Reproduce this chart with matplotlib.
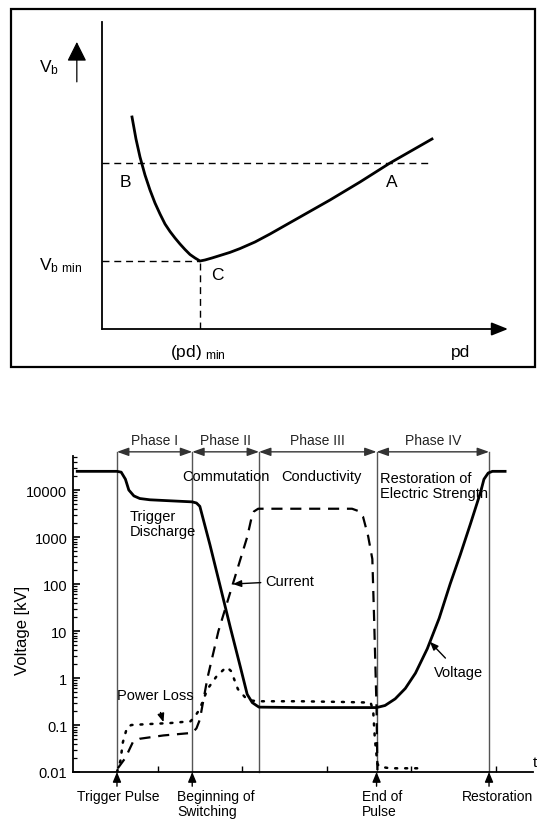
import matplotlib
matplotlib.use('Agg')
import matplotlib.pyplot as plt
from matplotlib.patches import Rectangle
from matplotlib.ticker import NullFormatter, LogLocator

plt.rcParams['font.family'] = ['Liberation Sans', 'DejaVu Sans']

# ---------------- Data: Paschen curve (arbitrary units) ----------------
pd_vals = [0.739, 0.837, 0.936, 1.059, 1.182, 1.305, 1.429, 1.552, 1.675, 1.798,
           1.921, 2.044, 2.167, 2.291, 2.414, 2.537, 2.709, 2.906, 3.153, 3.399,
           3.768, 4.138, 4.507, 4.877, 5.616, 6.355, 7.094, 8.128]
vb_vals = [6.906, 6.189, 5.603, 5.016, 4.528, 4.104, 3.746, 3.420, 3.176, 2.964,
           2.769, 2.590, 2.427, 2.313, 2.215, 2.248, 2.313, 2.394, 2.496, 2.620,
           2.834, 3.094, 3.371, 3.648, 4.202, 4.788, 5.407, 6.189]
vb_level = 5.407      # dashed level through B and A
pd_min = 2.414
vb_min = 2.215
pd_dash_end = 8.128

# ---------------- Data: switching phases ----------------
t_voltage = [0.05, 0.52, 0.57, 0.62, 0.66, 0.72, 0.79, 0.91, 1.15, 1.41, 1.46, 1.50,
             1.62, 1.74, 1.86, 1.98, 2.06, 2.12, 2.17, 2.20, 2.69, 3.59, 3.69, 3.81,
             3.93, 4.05, 4.19, 4.33, 4.46, 4.58, 4.70, 4.82, 4.86, 4.91, 4.96, 5.11]
voltage = [25000, 25000, 24000, 17000, 10000, 7500, 6600, 6200, 5900, 5600, 5300, 4500,
           680, 91, 12, 1.7, 0.45, 0.30, 0.26, 0.24, 0.235, 0.235, 0.26, 0.36,
           0.60, 1.27, 4.2, 18.6, 100, 420, 1900, 9000, 17000, 23000, 25000, 25000]

t_current = [0.53, 0.62, 0.71, 0.79, 1.07, 1.41, 1.46, 1.50, 1.59, 1.72, 1.89, 2.06,
             2.11, 2.14, 2.19, 2.27, 2.69, 3.30, 3.37, 3.43, 3.49, 3.54, 3.56, 3.59, 3.60]
current = [0.012, 0.02, 0.044, 0.051, 0.06, 0.068, 0.085, 0.13, 1.0, 10, 100, 1000,
           2500, 3500, 4000, 4000, 4000, 4000, 3600, 2700, 1050, 340, 21, 0.22, 0.011]

t_loss = [0.52, 0.56, 0.59, 0.64, 0.69, 0.91, 1.15, 1.39, 1.44, 1.50, 1.59, 1.70, 1.78,
          1.82, 1.87, 1.95, 2.04, 2.12, 2.21, 2.69, 3.16, 3.52, 3.55, 3.57, 3.60, 3.62,
          3.75, 3.93, 4.11]
power_loss = [0.01, 0.017, 0.043, 0.09, 0.1, 0.105, 0.11, 0.12, 0.15, 0.22, 0.58, 1.1,
              1.5, 1.7, 1.4, 0.58, 0.38, 0.33, 0.32, 0.32, 0.31, 0.3, 0.2, 0.05, 0.015,
              0.013, 0.012, 0.012, 0.012]

event_t = [0.52, 1.41, 2.20, 3.59, 4.92]
phase_names = ['Phase I', 'Phase II', 'Phase III', 'Phase IV']
arrow_events = [0.52, 1.41, 3.59, 4.92]
event_labels = ['Trigger Pulse', 'Beginning of\nSwitching', 'End of\nPulse', 'Restoration']
event_label_x = [0.54, 1.23, 3.42, 5.02]
event_label_ha = ['center', 'left', 'left', 'center']
ytick_vals = [0.01, 0.1, 1, 10, 100, 1000, 10000]
ytick_labels = ['0.01', '0.1', '1', '10', '100', '1000', '10000']

W, H = 537, 820
fig = plt.figure(figsize=(W / 100, H / 100), dpi=100)

# ---------------- Top panel ----------------
fig.patches.append(Rectangle((11 / W, 1 - 368 / H), 524 / W, 358 / H,
                             transform=fig.transFigure, fill=False,
                             edgecolor='black', linewidth=1.6))
ax1 = fig.add_axes([102 / W, 1 - 330 / H, 406 / W, 307 / H])
ax1.set_xlim(0, 10)
ax1.set_ylim(0, 10)
ax1.axis('off')
ax1.plot([0, 0], [0, 10], color='black', lw=1.3, clip_on=False)
ax1.annotate('', xy=(10, 0), xytext=(0, 0),
             arrowprops=dict(arrowstyle='-|>,head_length=0.5,head_width=0.2',
                             mutation_scale=20, color='black', lw=1.3,
                             shrinkA=0, shrinkB=0),
             annotation_clip=False)
ax1.plot(pd_vals, vb_vals, color='black', lw=2.0, solid_joinstyle='round')
dash = dict(color='black', lw=1.0, dashes=(5, 3.5))
ax1.plot([0, pd_dash_end], [vb_level, vb_level], **dash)
ax1.plot([0, pd_min], [vb_min, vb_min], **dash)
ax1.plot([pd_min, pd_min], [0, vb_min], **dash)

ax1.text(0.57, 4.82, 'B', fontsize=12.5, ha='center', va='center')
ax1.text(7.14, 4.79, 'A', fontsize=12.5, ha='center', va='center')
ax1.text(2.83, 1.76, 'C', fontsize=12.5, ha='center', va='center')
ax1.text(-1.31, 8.53, r'$\mathregular{V_b}$', fontsize=12.5, ha='center', va='center')
ax1.annotate('', xy=(-0.62, 9.35), xytext=(-0.62, 8.05),
             arrowprops=dict(arrowstyle='-|>,head_length=0.6,head_width=0.3',
                             mutation_scale=20, color='black', lw=0.9,
                             shrinkA=0, shrinkB=0),
             annotation_clip=False)
ax1.text(-1.03, 2.08, r'$\mathregular{V_{b\ min}}$', fontsize=12.5, ha='center', va='center')
ax1.text(2.36, -0.72, r'$\mathregular{(pd)_{\ min}}$', fontsize=12.5, ha='center', va='center')
ax1.text(8.82, -0.72, 'pd', fontsize=12.5, ha='center', va='center')

# ---------------- Bottom panel ----------------
ax2 = fig.add_axes([73 / W, 1 - 773 / H, 460 / W, 316 / H])
ax2.set_yscale('log')
ax2.set_xlim(0, 5.44)
ax2.set_ylim(0.01, 5.3e4)
for s in ['top', 'right']:
    ax2.spines[s].set_visible(False)
for s in ['left', 'bottom']:
    ax2.spines[s].set_linewidth(1.3)

ax2.set_yticks(ytick_vals)
ax2.set_yticklabels(ytick_labels)
ax2.yaxis.set_minor_locator(LogLocator(base=10, subs=range(2, 10), numticks=20))
ax2.yaxis.set_minor_formatter(NullFormatter())
ax2.set_xticks([1, 2, 3, 4, 5])
ax2.set_xticklabels([])
ax2.tick_params(axis='y', which='major', direction='in', length=5, width=1.2,
                labelsize=10.5, pad=4)
ax2.tick_params(axis='y', which='minor', direction='in', length=3, width=0.9)
ax2.tick_params(axis='x', which='major', direction='in', length=4, width=1.0)

# phase boundaries
y_arrow = 6.5e4
for t in event_t:
    ax2.plot([t, t], [0.01, y_arrow], color='#555555', lw=1.0, clip_on=False)
for i, name in enumerate(phase_names):
    t0, t1 = event_t[i], event_t[i + 1]
    ax2.annotate('', xy=(t1, y_arrow), xytext=(t0, y_arrow),
                 arrowprops=dict(arrowstyle='<|-|>,head_length=0.7,head_width=0.25',
                                 mutation_scale=10, color='#333333', lw=1.0,
                                 shrinkA=0, shrinkB=0),
                 annotation_clip=False)
    ax2.text((t0 + t1) / 2, 1.15e5, name, fontsize=10, ha='center', va='center',
             color='#222222', clip_on=False)

# curves
ax2.plot(t_voltage, voltage, color='black', lw=2.0, solid_joinstyle='round')
ax2.plot(t_current, current, color='black', lw=1.6, dashes=(5, 3.5))
ax2.plot(t_loss, power_loss, color='black', lw=1.8, linestyle=(0, (0.8, 3.2)),
         dash_capstyle='round')

# labels inside
ax2.text(0.67, 1900, 'Trigger\nDischarge', fontsize=10.5, ha='left', va='center',
         linespacing=1.1)
ax2.text(1.81, 20000, 'Commutation', fontsize=10.5, ha='center', va='center')
ax2.text(2.94, 20000, 'Conductivity', fontsize=10.5, ha='center', va='center')
ax2.text(3.63, 12300, 'Restoration of\nElectric Strength', fontsize=10.5,
         ha='left', va='center', linespacing=1.1)
ax2.annotate('Current', xy=(1.89, 100), xytext=(2.27, 115), fontsize=10.5,
             ha='left', va='center',
             arrowprops=dict(arrowstyle='-|>,head_length=0.5,head_width=0.2',
                             mutation_scale=10, color='black', lw=1.0,
                             shrinkA=1, shrinkB=0))
ax2.annotate('Voltage', xy=(4.22, 5.9), xytext=(4.56, 1.35), fontsize=10.5,
             ha='center', va='center',
             arrowprops=dict(arrowstyle='-|>,head_length=0.5,head_width=0.2',
                             mutation_scale=10, color='black', lw=1.0,
                             shrinkA=4, shrinkB=0))
ax2.annotate('Power Loss', xy=(1.07, 0.115), xytext=(0.97, 0.44), fontsize=10.5,
             ha='center', va='center',
             arrowprops=dict(arrowstyle='-|>,head_length=0.5,head_width=0.2',
                             mutation_scale=10, color='black', lw=1.0,
                             shrinkA=6, shrinkB=0))

# event arrows and labels under the axis
for t, lab, lx, ha in zip(arrow_events, event_labels, event_label_x, event_label_ha):
    ax2.annotate('', xy=(t, 0), xycoords=('data', 'axes fraction'),
                 xytext=(t, -0.045), textcoords=('data', 'axes fraction'),
                 arrowprops=dict(arrowstyle='-|>,head_length=0.6,head_width=0.25',
                                 mutation_scale=10, color='black', lw=1.0,
                                 shrinkA=0, shrinkB=0),
                 annotation_clip=False)
    ax2.text(lx, -0.055, lab, transform=ax2.get_xaxis_transform(), fontsize=10,
             ha=ha, va='top', linespacing=1.1)

ax2.text(1.0, 0.01, 't', transform=ax2.transAxes, fontsize=11, ha='left',
         va='bottom', clip_on=False)
fig.text(23 / W, 1 - 630 / H, 'Voltage [kV]', rotation=90, ha='center', va='center',
         fontsize=12)

fig.savefig('out.png', dpi=100)
